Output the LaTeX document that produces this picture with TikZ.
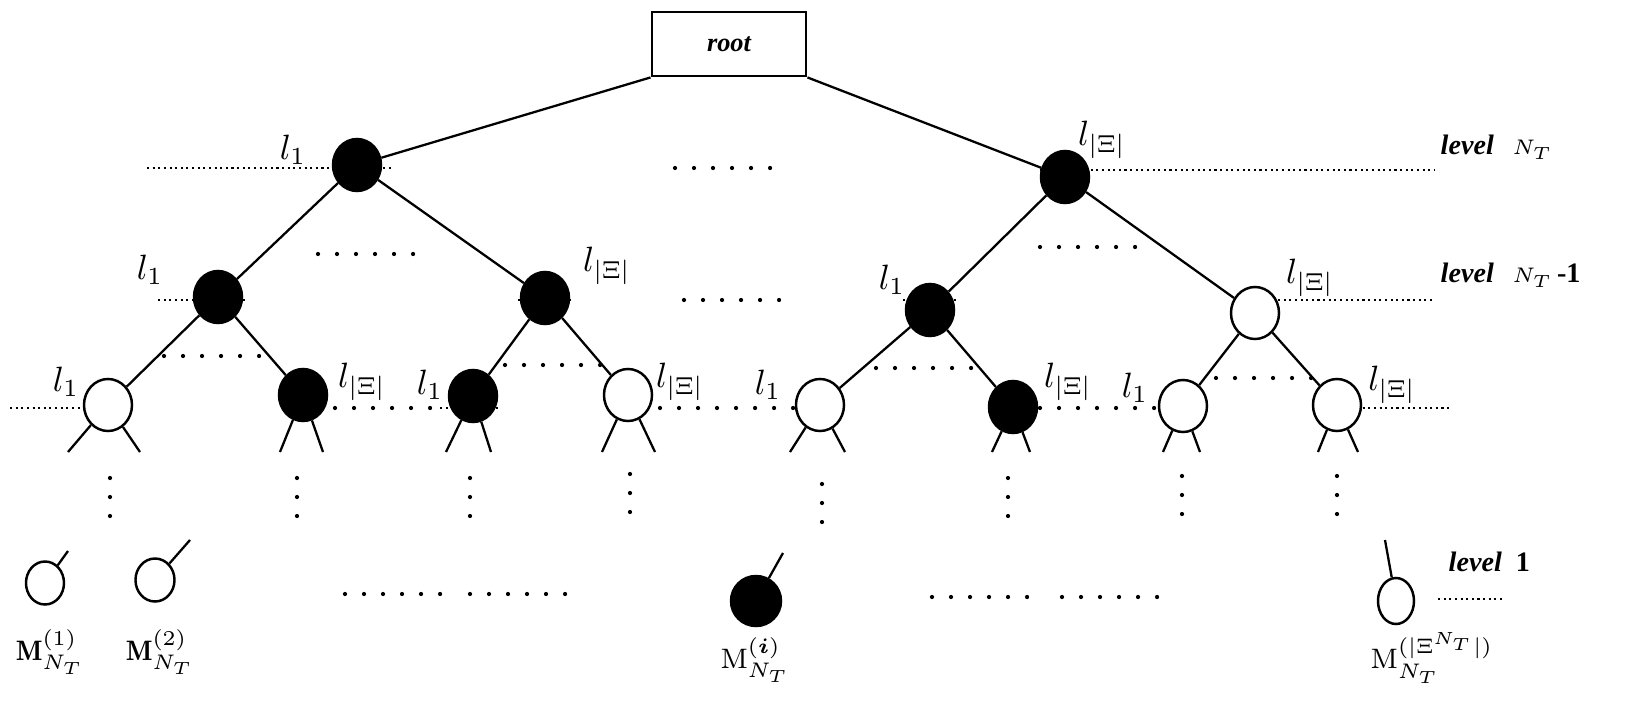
\documentclass[tikz,border=0pt]{standalone}
\usepackage{amssymb}
\usepackage{amsmath}
\usepackage{xcolor}
\usepackage{tikz}
\usepackage{fontspec}
\newfontfamily\tnr{Liberation Serif}
\usetikzlibrary{shapes.geometric}

\tikzset{
  bnode/.style={ellipse, draw, fill=black, line width=0.7pt, minimum width=0.48cm, minimum height=0.52cm, inner sep=0pt},
  wnode/.style={ellipse, draw, fill=white, line width=0.7pt, minimum width=0.48cm, minimum height=0.52cm, inner sep=0pt},
  edge/.style={line width=0.65pt},
  lev/.style={densely dotted, line width=0.6pt},
  sdots/.style={line width=1.2pt, line cap=round, dash pattern=on 0pt off 0.19cm},
  lab/.style={inner sep=0pt},
  levtxt/.style={inner sep=0pt, anchor=west, font={\fontsize{8}{9}\selectfont}}
}

\begin{document}
\begin{tikzpicture}[x=0.01cm,y=-0.01cm]
                \useasboundingbox (0,0) rectangle (1635,718);
                % level lines
                \draw[lev] (147,168) -- (392,168);
                \draw[lev] (1040,170) -- (1435,170);
                \draw[lev] (158,300) -- (245,300);
                \draw[lev] (518,300) -- (572,300);
                \draw[lev] (903,300) -- (957,300);
                \draw[lev] (1278,300) -- (1435,300);
                \draw[lev] (10,408) -- (133,408);
                \draw[lev] (440,408) -- (500,408);
                \draw[lev] (1357,408) -- (1452,408);
                \draw[lev] (1438,599) -- (1503,599);
                % horizontal gaps
                \draw[sdots] (675,168) -- (771,168);
                \draw[sdots] (318,254) -- (414,254);
                \draw[sdots] (684,300) -- (780,300);
                \draw[sdots] (1040,247) -- (1136,247);
                \draw[sdots] (164,356) -- (260,356);
                \draw[sdots] (505,365) -- (601,365);
                \draw[sdots] (876,368) -- (972,368);
                \draw[sdots] (1216,378) -- (1312,378);
                \draw[sdots] (335,408) -- (431,408);
                \draw[sdots] (660,408) -- (794,408);
                \draw[sdots] (1040,408) -- (1155,408);
                \draw[sdots] (345,594) -- (441,594);
                \draw[sdots] (470,594) -- (566,594);
                \draw[sdots] (932,597) -- (1028,597);
                \draw[sdots] (1062,597) -- (1158,597);
                % vertical gaps
                \draw[sdots] (110,478) -- (110,517);
                \draw[sdots] (297,478) -- (297,517);
                \draw[sdots] (470,478) -- (470,517);
                \draw[sdots] (630,474) -- (630,513);
                \draw[sdots] (822,484) -- (822,523);
                \draw[sdots] (1008,478) -- (1008,517);
                \draw[sdots] (1182,476) -- (1182,515);
                \draw[sdots] (1337,476) -- (1337,515);

                \node[draw, line width=0.8pt, minimum width=1.54cm, minimum height=0.64cm, font={\tnr\bfseries\itshape\fontsize{7.5}{9}\selectfont}] (root) at (729,44) {root};

                \node[bnode] (lt) at (357,165) {};
                \node[bnode] (rt) at (1065,177) {};
                \node[bnode] (a) at (218,297) {};
                \node[bnode] (b) at (545,298) {};
                \node[bnode] (c) at (930,310) {};
                \node[wnode] (d) at (1255,313) {};
                \node[wnode] (n1) at (108,405) {};
                \node[bnode] (n2) at (303,395) {};
                \node[bnode] (n3) at (473,396) {};
                \node[wnode] (n4) at (628,395) {};
                \node[wnode] (n5) at (820,405) {};
                \node[bnode] (n6) at (1013,407) {};
                \node[wnode] (n7) at (1183,406) {};
                \node[wnode] (n8) at (1337,405) {};
                \node[wnode, minimum width=0.38cm, minimum height=0.43cm] (m1) at (45,583) {};
                \node[wnode, minimum width=0.39cm, minimum height=0.43cm] (m2) at (155,580) {};
                \node[bnode, minimum width=0.5cm, minimum height=0.5cm] (mi) at (756,601) {};
                \node[wnode, minimum width=0.36cm, minimum height=0.46cm] (mn) at (1396,601) {};

                % tree edges
                \draw[edge] (root.south west) -- (lt);
                \draw[edge] (root.south east) -- (rt);
                \draw[edge] (lt) -- (a);
                \draw[edge] (lt) -- (b);
                \draw[edge] (rt) -- (c);
                \draw[edge] (rt) -- (d);
                \draw[edge] (a) -- (n1);
                \draw[edge] (a) -- (n2);
                \draw[edge] (b) -- (n3);
                \draw[edge] (b) -- (n4);
                \draw[edge] (c) -- (n5);
                \draw[edge] (c) -- (n6);
                \draw[edge] (d) -- (n7);
                \draw[edge] (d) -- (n8);
                % open branches
                \draw[edge] (n1) -- (68,452);
                \draw[edge] (n1) -- (140,452);
                \draw[edge] (n2) -- (280,452);
                \draw[edge] (n2) -- (323,452);
                \draw[edge] (n3) -- (446,452);
                \draw[edge] (n3) -- (491,452);
                \draw[edge] (n4) -- (602,452);
                \draw[edge] (n4) -- (655,452);
                \draw[edge] (n5) -- (790,452);
                \draw[edge] (n5) -- (845,452);
                \draw[edge] (n6) -- (992,452);
                \draw[edge] (n6) -- (1030,452);
                \draw[edge] (n7) -- (1163,452);
                \draw[edge] (n7) -- (1200,452);
                \draw[edge] (n8) -- (1318,452);
                \draw[edge] (n8) -- (1358,452);
                \draw[edge] (m1) -- (68,551);
                \draw[edge] (m2) -- (190,540);
                \draw[edge] (mi) -- (783,553);
                \draw[edge] (mn) -- (1385,540);

                % branch labels
                \node[lab] (lt-l) at (293,150) {$l_1$};
                \node[lab] (rt-l) at (1102,140) {$l_{|\Xi|}$};
                \node[lab] (a-l) at (150,270) {$l_1$};
                \node[lab] (b-l) at (607,266) {$l_{|\Xi|}$};
                \node[lab] (c-l) at (892,280) {$l_1$};
                \node[lab] (d-l) at (1310,278) {$l_{|\Xi|}$};
                \node[lab] (n1-l) at (66,382) {$l_1$};
                \node[lab] (n2-l) at (362,382) {$l_{|\Xi|}$};
                \node[lab] (n3-l) at (430,385) {$l_1$};
                \node[lab] (n4-l) at (680,382) {$l_{|\Xi|}$};
                \node[lab] (n5-l) at (768,385) {$l_1$};
                \node[lab] (n6-l) at (1068,382) {$l_{|\Xi|}$};
                \node[lab] (n7-l) at (1135,388) {$l_1$};
                \node[lab] (n8-l) at (1392,385) {$l_{|\Xi|}$};

                % leaf labels
                \node[lab, font=\footnotesize] (m1-l) at (50,652) {$\mathbf{M}^{(1)}_{N_T}$};
                \node[lab, font=\footnotesize] (m2-l) at (160,652) {$\mathbf{M}^{(2)}_{N_T}$};
                \node[lab, font=\footnotesize] (mi-l) at (755,660) {$\mathrm{M}^{(\boldsymbol{i})}_{N_T}$};
                \node[lab, font=\footnotesize] (mn-l) at (1432,658) {$\mathrm{M}^{(|\Xi^{N_T}|)}_{N_T}$};

                % levels
                \node[levtxt] (lv-top) at (1440,147) {{\tnr\bfseries\itshape level}\enspace\,$\scriptstyle N_T$};
                \node[levtxt] (lv-mid) at (1440,275) {{\tnr\bfseries\itshape level}\enspace\,$\scriptstyle N_T$\,{\tnr\bfseries -1}};
                \node[levtxt] (lv-bot) at (1448,562) {{\tnr\bfseries\itshape level}\enspace{\tnr\bfseries 1}};
            \end{tikzpicture}
\end{document}
